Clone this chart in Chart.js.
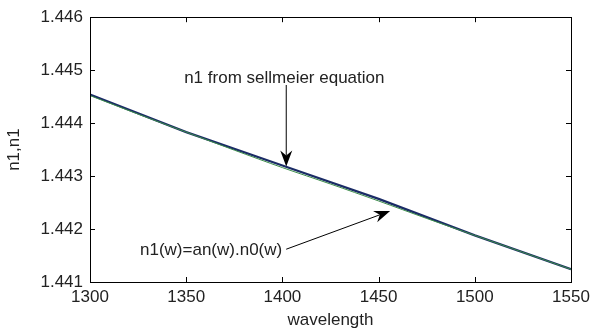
<!DOCTYPE html>
<html>
<head>
<meta charset="utf-8">
<script src="https://cdn.jsdelivr.net/npm/chart.js@4.4.0/dist/chart.umd.min.js"></script>
<style>
  html, body { margin: 0; padding: 0; background: #fff; }
  #wrap { width: 600px; height: 331px; position: relative; }
</style>
</head>
<body>
<div id="wrap"><canvas id="chart"></canvas></div>
<script>
// Refractive index of the core vs wavelength (nm)
const wavelengthSellmeier = [1300, 1325, 1350, 1375, 1400, 1425, 1450, 1475, 1500, 1525, 1550];
const n1Sellmeier = [1.44452, 1.44417, 1.44383, 1.44349, 1.44316, 1.44285, 1.44253, 1.44220, 1.44188, 1.44156, 1.44124];

const wavelengthModel = [1300, 1350, 1400, 1450, 1500, 1550];
const n1Model = [1.44454, 1.44383, 1.44320, 1.44257, 1.44188, 1.44124];

const xTicks = [1300, 1350, 1400, 1450, 1500, 1550];
const yTicks = [1.441, 1.442, 1.443, 1.444, 1.445, 1.446];

const FONT = 'Liberation Sans, Arial, sans-serif';
const TEXT = '#222';

// text + arrow callouts, anchored in data units
const callouts = [
  { text: 'n1 from sellmeier equation', tx: 1401, ty: 1.44485, align: 'center',
    from: [1402, 1.44472], to: [1402, 1.44318] },
  { text: 'n1(w)=an(w).n0(w)', tx: 1326, ty: 1.44160, align: 'left',
    from: null, to: [1456, 1.44234] },
];

function drawArrow(ctx, x0, y0, x1, y1) {
  const ang = Math.atan2(y1 - y0, x1 - x0);
  const len = 16, half = 6, notch = 5;
  const bx = x1 - len * Math.cos(ang), by = y1 - len * Math.sin(ang);
  ctx.beginPath();
  ctx.moveTo(x0, y0);
  ctx.lineTo(x1 - (len - notch) * Math.cos(ang), y1 - (len - notch) * Math.sin(ang));
  ctx.stroke();
  ctx.beginPath();
  ctx.moveTo(x1, y1);
  ctx.lineTo(bx + half * Math.sin(ang), by - half * Math.cos(ang));
  ctx.lineTo(x1 - (len - notch) * Math.cos(ang), y1 - (len - notch) * Math.sin(ang));
  ctx.lineTo(bx - half * Math.sin(ang), by + half * Math.cos(ang));
  ctx.closePath();
  ctx.fill();
}

const frame = {
  id: 'frame',
  afterDatasetsDraw(chart) {
    const { ctx, chartArea: a, scales: { x, y } } = chart;
    ctx.save();
    ctx.strokeStyle = '#000';
    ctx.lineWidth = 1;
    ctx.strokeRect(Math.round(a.left) + 0.5, Math.round(a.top) + 0.5,
                   Math.round(a.right - a.left), Math.round(a.bottom - a.top));
    // inward ticks on all four sides
    ctx.beginPath();
    xTicks.forEach(v => {
      const px = Math.round(x.getPixelForValue(v)) + 0.5;
      ctx.moveTo(px, a.bottom); ctx.lineTo(px, a.bottom - 5);
      ctx.moveTo(px, a.top); ctx.lineTo(px, a.top + 5);
    });
    yTicks.forEach(v => {
      const py = Math.round(y.getPixelForValue(v)) + 0.5;
      ctx.moveTo(a.left, py); ctx.lineTo(a.left + 5, py);
      ctx.moveTo(a.right, py); ctx.lineTo(a.right - 5, py);
    });
    ctx.stroke();

    // callouts
    ctx.font = '17px ' + FONT;
    ctx.strokeStyle = '#000';
    ctx.textBaseline = 'middle';
    callouts.forEach(c => {
      const tx = x.getPixelForValue(c.tx), ty = y.getPixelForValue(c.ty);
      ctx.textAlign = c.align;
      ctx.fillStyle = TEXT;
      ctx.fillText(c.text, tx, ty);
      ctx.fillStyle = '#000';
      let fx, fy;
      if (c.from) {
        fx = x.getPixelForValue(c.from[0]); fy = y.getPixelForValue(c.from[1]);
      } else {
        fx = tx + ctx.measureText(c.text).width + 4; fy = ty - 1;
      }
      drawArrow(ctx, fx, fy, x.getPixelForValue(c.to[0]), y.getPixelForValue(c.to[1]));
    });
    ctx.restore();
  }
};

new Chart(document.getElementById('chart'), {
  type: 'line',
  data: {
    datasets: [
      {
        label: 'n1 sellmeier',
        data: wavelengthSellmeier.map((w, i) => ({ x: w, y: n1Sellmeier[i] })),
        borderColor: '#3c8c4a',
        borderWidth: 1,
        pointRadius: 0,
        tension: 0.3,
        order: 0,
      },
      {
        label: 'n1 model',
        data: wavelengthModel.map((w, i) => ({ x: w, y: n1Model[i] })),
        borderColor: '#1b2c66',
        borderWidth: 2.2,
        pointRadius: 0,
        tension: 0,
        order: 1,
      },
    ],
  },
  options: {
    responsive: true,
    maintainAspectRatio: false,
    animation: false,
    layout: { padding: { top: 17, right: 29, left: 0, bottom: 0 } },
    plugins: { legend: { display: false }, tooltip: { enabled: false } },
    scales: {
      x: {
        type: 'linear',
        min: 1300, max: 1550,
        afterBuildTicks: s => { s.ticks = xTicks.map(v => ({ value: v })); },
        afterFit: s => { s.height = 49; },
        grid: { display: false, drawTicks: false },
        border: { display: false },
        ticks: { color: TEXT, font: { family: FONT, size: 17 }, padding: 5, maxRotation: 0, callback: v => String(v) },
        title: { display: true, text: 'wavelength', color: TEXT, font: { family: FONT, size: 17 }, padding: { top: 0, bottom: 0 } },
      },
      y: {
        min: 1.441, max: 1.446,
        afterBuildTicks: s => { s.ticks = yTicks.map(v => ({ value: v })); },
        afterFit: s => { s.width = 90; },
        grid: { display: false, drawTicks: false },
        border: { display: false },
        ticks: { color: TEXT, font: { family: FONT, size: 17 }, padding: 7, callback: v => v.toFixed(3) },
        title: { display: true, text: 'n1,n1', color: TEXT, font: { family: FONT, size: 17 }, padding: { top: 4, bottom: 0 } },
      },
    },
  },
  plugins: [frame],
});
</script>
</body>
</html>
